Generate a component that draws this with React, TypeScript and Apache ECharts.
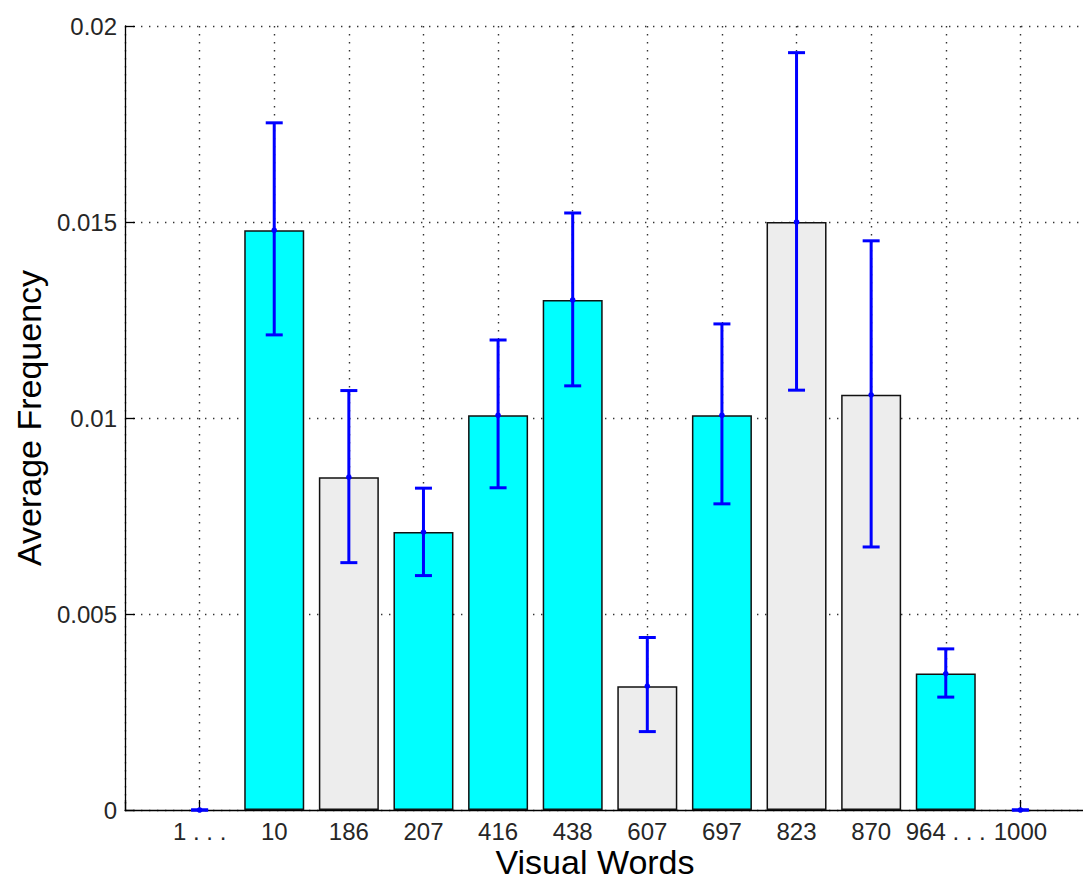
import React, { useEffect, useRef } from "react";
import * as echarts from "echarts";

const categories = ["1 . . .", "10", "186", "207", "416", "438", "607", "697", "823", "870", "964 . . .", "1000"];
const means = [0, 0.01479, 0.00849, 0.00709, 0.01007, 0.01301, 0.00316, 0.01007, 0.015, 0.01059, 0.00348, 0];
const lower = [0, 0.01212, 0.00631, 0.00598, 0.00822, 0.01082, 0.002, 0.00781, 0.01071, 0.00671, 0.00288, 0];
const upper = [0, 0.01753, 0.0107, 0.00821, 0.01199, 0.01523, 0.0044, 0.0124, 0.01932, 0.01452, 0.00411, 0];
const groups = ["none", "cyan", "gray", "cyan", "cyan", "cyan", "gray", "cyan", "gray", "gray", "cyan", "none"];
const yTicks = [0, 0.005, 0.01, 0.015, 0.02];

const groupColor: Record<string, string> = { cyan: "#00FFFF", gray: "#EDEDED", none: "#FFFFFF" };
const FONT = "'Liberation Sans', Arial, sans-serif";

export default function App() {
  const ref = useRef<HTMLDivElement>(null);
  useEffect(() => {
    if (!ref.current) return;
    const chart = echarts.init(ref.current, null, { renderer: "svg" });
    const gridLine = { show: true, lineStyle: { color: "#333", width: 1.4, type: [1.4, 6.6] as any } };
    const option: any = {
      animation: false,
      backgroundColor: "#fff",
      grid: { left: 125, top: 26, right: 5, bottom: 70, containLabel: false },
      xAxis: {
        type: "value",
        min: 0,
        max: categories.length + 1,
        interval: 1,
        axisLine: { show: true, onZero: false, lineStyle: { color: "#000", width: 1.3 } },
        axisTick: { show: true, inside: true, length: 10, lineStyle: { color: "#000", width: 1.3 } },
        axisLabel: {
          show: true,
          margin: 9,
          color: "#262626",
          fontSize: 24,
          fontFamily: FONT,
          formatter: (v: number) => (v >= 1 && v <= categories.length ? categories[Math.round(v) - 1] : ""),
        },
        splitLine: gridLine,
      },
      yAxis: {
        type: "value",
        min: 0,
        max: yTicks[yTicks.length - 1],
        interval: yTicks[1] - yTicks[0],
        axisLine: { show: true, lineStyle: { color: "#000", width: 1.3 } },
        axisTick: { show: true, inside: true, length: 10, lineStyle: { color: "#000", width: 1.3 } },
        axisLabel: {
          margin: 8,
          color: "#262626",
          fontSize: 24,
          fontFamily: FONT,
          formatter: (v: number) => {
            const t = yTicks.find((y) => Math.abs(y - v) < 1e-9);
            return t === undefined ? "" : String(t);
          },
        },
        splitLine: gridLine,
      },
      graphic: [
        {
          type: "text",
          x: 595,
          y: 862,
          style: {
            text: "Visual Words",
            fontSize: 34,
            fontFamily: FONT,
            fill: "#000",
            align: "center",
            verticalAlign: "middle",
          },
        },
        {
          type: "text",
          x: 29,
          y: 418,
          rotation: Math.PI / 2,
          style: {
            text: "Average Frequency",
            fontSize: 34,
            fontFamily: FONT,
            fill: "#000",
            align: "center",
            verticalAlign: "middle",
          },
        },
      ],
      series: [
        {
          type: "bar",
          barWidth: 60,
          data: means.map((m, i) => ({
            value: [i + 1, m],
            itemStyle: {
              color: groupColor[groups[i]],
              borderColor: m > 0 ? "#111" : "transparent",
              borderWidth: 1.5,
            },
          })),
        },
        {
          type: "custom",
          z: 5,
          data: means.map((m, i) => [i + 1, m, lower[i], upper[i]]),
          renderItem: (params: any, api: any) => {
            const x = api.value(0);
            const pm = api.coord([x, api.value(1)]);
            const pl = api.coord([x, api.value(2)]);
            const pu = api.coord([x, api.value(3)]);
            const hw = 8.5;
            const st = { stroke: "#0000FF", lineWidth: 3 };
            return {
              type: "group",
              children: [
                { type: "line", shape: { x1: pl[0], y1: pl[1], x2: pu[0], y2: pu[1] }, style: st },
                { type: "line", shape: { x1: pl[0] - hw, y1: pl[1], x2: pl[0] + hw, y2: pl[1] }, style: st },
                { type: "line", shape: { x1: pu[0] - hw, y1: pu[1], x2: pu[0] + hw, y2: pu[1] }, style: st },
                { type: "circle", shape: { cx: pm[0], cy: pm[1], r: 2.8 }, style: { fill: "#0000FF" } },
              ],
            };
          },
        },
      ],
    };
    chart.setOption(option);
    return () => chart.dispose();
  }, []);
  return (
    <div style={{ position: "absolute", left: 0, top: 0, width: 1083, height: 880, overflow: "hidden", background: "#fff" }}>
      <div ref={ref} style={{ width: 1100, height: 880 }} />
    </div>
  );
}
